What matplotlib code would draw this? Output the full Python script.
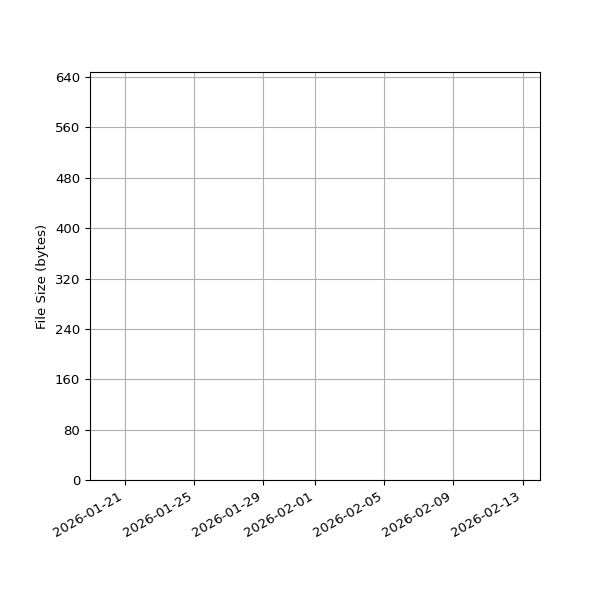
import numpy as np
import matplotlib
matplotlib.use('Agg')
import matplotlib.pyplot as plt
import matplotlib.dates as mdates
from datetime import datetime

# No points are visible in the chart: the series is empty
dates = []
sizes = []

x_start = datetime(2026, 1, 19)
x_end = datetime(2026, 2, 14)
y_max = 648
y_ticks = list(range(0, 641, 80))

plt.rcParams.update({'font.size': 9.5})
fig, ax = plt.subplots(figsize=(6, 6), dpi=100)
ax.plot(dates, sizes, marker='o')
ax.set_xlim(x_start, x_end)
ax.set_ylim(0, y_max)
ax.set_yticks(y_ticks)
ax.xaxis.set_major_locator(mdates.DayLocator(bymonthday=[1, 5, 9, 13, 17, 21, 25, 29]))
ax.xaxis.set_major_formatter(mdates.DateFormatter('%Y-%m-%d'))
ax.set_ylabel('File Size (bytes)')
ax.grid(True)
fig.autofmt_xdate()
fig.subplots_adjust(left=0.15, right=0.9, top=0.88, bottom=0.2)
fig.savefig('out.png')
